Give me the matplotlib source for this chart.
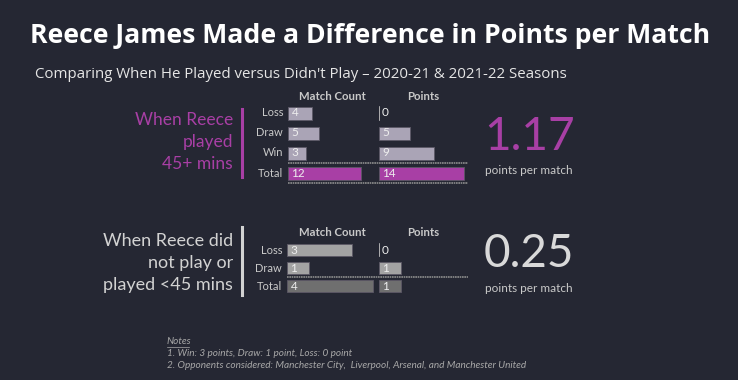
import matplotlib.pyplot as plt

# Dados
linhas_jogou = ['Loss', 'Draw', 'Win', 'Total']
jogos_jogou = [4, 5, 3, 12]
pontos_jogou = [0, 5, 9, 14]

linhas_nao = ['Loss', 'Draw', 'Total']
jogos_nao = [3, 1, 4]
pontos_nao = [0, 1, 1]

ppm_jogou = 1.17
ppm_nao = 0.25

# Cores
fundo = '#252733'
roxo = '#a83fa5'
lilas = '#aaa4b6'
cinza_claro = '#a3a3a3'
cinza_escuro = '#6f6f6f'
texto = '#c9c9c9'

W, H = 738, 380
fonte = 'Lato'

fig = plt.figure(figsize=(W / 100, H / 100), dpi=100, facecolor=fundo)


def eixo(x0, y0, x1, y1):
    # cria um eixo a partir de coordenadas em pixels (origem no topo)
    ax = fig.add_axes([x0 / W, 1 - y1 / H, (x1 - x0) / W, (y1 - y0) / H])
    ax.set_facecolor('none')
    ax.axis('off')
    return ax


def txt(x, y, s, **kw):
    kw.setdefault('family', fonte)
    fig.text(x / W, 1 - y / H, s, **kw)


def barras(ax, valores, cores, altura, escala_px, largura_px):
    n = len(valores)
    ax.barh(range(n), valores, height=altura, color=cores,
            edgecolor='#5c5866', linewidth=0.6)
    for i, v in enumerate(valores):
        if v == 0:
            ax.plot([0, 0], [i - altura / 2, i + altura / 2], color='#bdbdbd', lw=1.2)
        ax.annotate(str(v), (0, i), xytext=(2.5 if v else 2.2, 0), textcoords='offset points',
                    va='center', ha='left', fontsize=8.5, color='#eeeeee', family=fonte)
    ax.set_xlim(0, largura_px / escala_px)
    ax.set_ylim(n - 0.5, -0.5)


def rotulos(ax, nomes):
    for i, r in enumerate(nomes):
        ax.annotate(r, (0, i), xytext=(-3.5, 0), textcoords='offset points',
                    ha='right', va='center', fontsize=8, color=texto, family=fonte)


# Titulo
txt(30, 36, 'Reece James Made a Difference in Points per Match',
    fontsize=19.2, weight='bold', color='white', va='center', family='Open Sans')
txt(35, 75, "Comparing When He Played versus Didn't Play \u2013 2020-21 & 2021-22 Seasons",
    fontsize=10.8, color='#e6e6e6', va='center', family='Open Sans')

# ---------- painel superior ----------
esc_top = 6.1
ax1 = eixo(288, 103, 368, 183)
barras(ax1, jogos_jogou, [lilas] * 3 + [roxo], 0.65, esc_top, 80)
ax2 = eixo(379, 103, 468, 183)
barras(ax2, pontos_jogou, [lilas] * 3 + [roxo], 0.65, esc_top, 89)
for yy in (2.5, 3.5):
    ax1.axhline(yy, xmin=0, xmax=180 / 80, color='#8c8c8c', lw=1.2,
                ls=(0, (1, 0.4)), clip_on=False)
rotulos(ax1, linhas_jogou)

txt(332, 97, 'Match Count', fontsize=8.2, weight='bold', color=texto, ha='center', va='center')
txt(423, 97, 'Points', fontsize=8.2, weight='bold', color=texto, ha='center', va='center')

for i, s in enumerate(['When Reece', 'played', '45+ mins']):
    txt(233, 120 + 22 * i, s, fontsize=12.5, color=roxo, ha='right', va='center')
fig.add_artist(plt.Line2D([242 / W, 242 / W], [1 - 109 / H, 1 - 177 / H], color=roxo, lw=2.2))

txt(484, 150, f'{ppm_jogou:.2f}', fontsize=33, color=roxo, ha='left', va='baseline')
txt(485, 170, 'points per match', fontsize=8.5, color=texto, ha='left', va='center')

# ---------- painel inferior ----------
esc_bot = 21.5
ax3 = eixo(287, 241, 375, 295)
barras(ax3, jogos_nao, [cinza_claro] * 2 + [cinza_escuro], 0.72, esc_bot, 88)
ax4 = eixo(379, 241, 468, 295)
barras(ax4, pontos_nao, [cinza_claro] * 2 + [cinza_escuro], 0.72, esc_bot, 89)
ax3.axhline(1.5, xmin=0, xmax=181 / 88, color='#8c8c8c', lw=1.2,
            ls=(0, (1, 0.4)), clip_on=False)
rotulos(ax3, linhas_nao)

txt(332, 233, 'Match Count', fontsize=8.2, weight='bold', color=texto, ha='center', va='center')
txt(423, 233, 'Points', fontsize=8.2, weight='bold', color=texto, ha='center', va='center')

for i, s in enumerate(['When Reece did', 'not play or', 'played <45 mins']):
    txt(233, 241 + 22 * i, s, fontsize=13, color='#d2d2d2', ha='right', va='center')
fig.add_artist(plt.Line2D([242 / W, 242 / W], [1 - 227 / H, 1 - 295 / H], color='#d2d2d2', lw=2.2))

txt(484, 267, f'{ppm_nao:.2f}', fontsize=33, color='#d9d9d9', ha='left', va='baseline')
txt(485, 288, 'points per match', fontsize=8.5, color=texto, ha='left', va='center')

# Notas
cor_nota = '#a8a8a8'
txt(167, 342, 'Notes', fontsize=7.2, style='italic', color=cor_nota, va='center')
fig.add_artist(plt.Line2D([167 / W, 189 / W], [1 - 347 / H, 1 - 347 / H], color=cor_nota, lw=0.5))
txt(167, 354, '1. Win: 3 points, Draw: 1 point, Loss: 0 point',
    fontsize=7.2, style='italic', color=cor_nota, va='center')
txt(167, 365, '2. Opponents considered: Manchester City,  Liverpool, Arsenal, and Manchester United',
    fontsize=7.2, style='italic', color=cor_nota, va='center')

fig.savefig('out.png', dpi=100, facecolor=fundo)
